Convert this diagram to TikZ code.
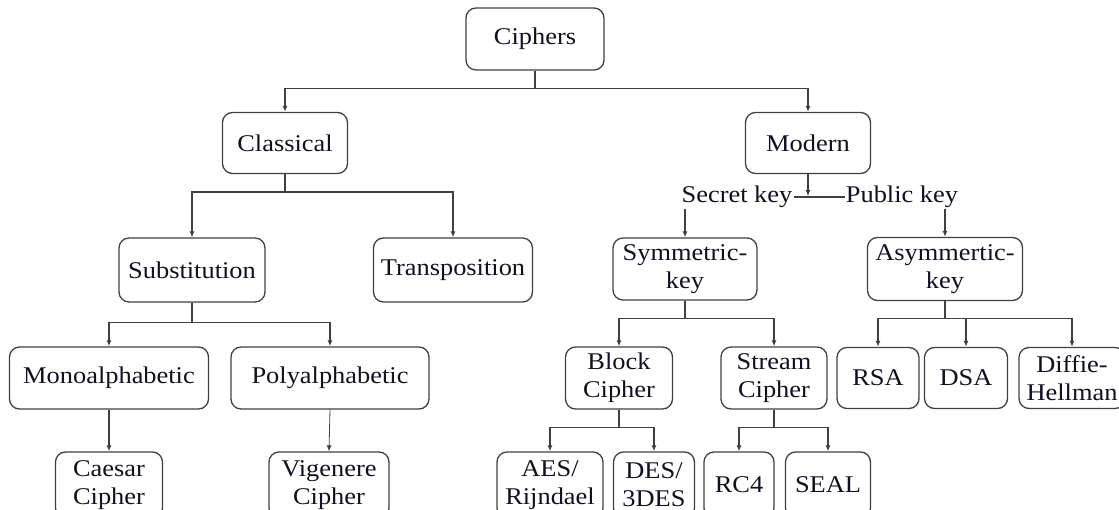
\documentclass[tikz,border=0pt]{standalone}
\usepackage{fontspec}
\setmainfont{Liberation Serif}[FakeStretch=1.1]
\usetikzlibrary{arrows.meta}
\definecolor{ln}{HTML}{404040}
\definecolor{tx}{HTML}{101020}
\begin{document}
\begin{tikzpicture}[x=1pt,y=-1pt,
  box/.style={draw=ln,line width=1.3pt,rounded corners=10pt,inner sep=0pt,align=center,
    text=tx,font=\fontsize{24}{28}\selectfont},
  lbl/.style={inner sep=1pt,text=tx,font=\fontsize{24}{28}\selectfont},
  conn/.style={draw=ln,line width=1.3pt},
  arr/.style={conn,-{Latex[length=6pt,width=5pt]}}]
\path[use as bounding box] (0,0) rectangle (1119,510);
\clip (0,0) rectangle (1119,510);
% nodes
\node[box,minimum width=138,minimum height=62] (ciph) at (535,39) {Ciphers};
\node[box,minimum width=125,minimum height=61] (cla) at (285,143) {Classical};
\node[box,minimum width=125,minimum height=61] (mod) at (808,143) {Modern};
\node[box,minimum width=146,minimum height=64] (sub) at (192,270) {Substitution};
\node[box,minimum width=159,minimum height=64] (tra) at (453,270) {Transposition};
\node[box,minimum width=199,minimum height=62] (mono) at (109,378) {Monoalphabetic};
\node[box,minimum width=198,minimum height=62] (poly) at (330,378) {Polyalphabetic};
\node[box,minimum width=107,minimum height=66] (cae) at (109,485) {Caesar\\Cipher};
\node[box,minimum width=120,minimum height=66] (vig) at (329,485) {Vigenere\\Cipher};
\node[lbl] (sk) at (737,197) {Secret key};
\node[lbl] (pk) at (902,197) {Public key};
\node[box,minimum width=144,minimum height=62] (sym) at (685,269) {Symmetric-\\key};
\node[box,minimum width=155,minimum height=63] (asym) at (945,269) {Asymmertic-\\key};
\node[box,minimum width=107,minimum height=62] (blk) at (619,378) {Block\\Cipher};
\node[box,minimum width=106,minimum height=62] (str) at (774,378) {Stream\\Cipher};
\node[box,minimum width=106,minimum height=66] (aes) at (550,485) {AES/\\Rijndael};
\node[box,minimum width=81,minimum height=66] (des) at (654,485) {DES/\\3DES};
\node[box,minimum width=70,minimum height=66] (rc4) at (739,485) {RC4};
\node[box,minimum width=85,minimum height=66] (seal) at (828,485) {SEAL};
\node[box,minimum width=82,minimum height=61] (rsa) at (878,378) {RSA};
\node[box,minimum width=83,minimum height=61] (dsa) at (966,378) {DSA};
\node[box,minimum width=106,minimum height=61] (dh) at (1072,378) {Diffie-\\Hellman};
% connectors
\draw[arr] (ciph.south) -- +(0,18) -| (cla.north);
\draw[arr] (ciph.south) -- +(0,18) -| (mod.north);
\draw[arr] (cla.south) -- +(0,18) -| (sub.north);
\draw[arr] (cla.south) -- +(0,18) -| (tra.north);
\draw[arr] (sub.south) -- +(0,20) -| (mono.north);
\draw[arr] (sub.south) -- +(0,20) -| (poly.north);
\draw[arr] (mono.south) -- (cae.north);
\draw[draw=ln,line width=0.8pt,-{Latex[length=6pt,width=5pt]}] (poly.south) -- (vig.north);
\draw[arr] (mod.south) -- +(0,22);
\draw[conn] (sk.east) -- (pk.west);
\draw[arr] (sk.south -| sym.north) -- (sym.north);
\draw[arr] (pk.south -| asym.north) -- (asym.north);
\draw[arr] (sym.south) -- +(0,18) -| (blk.north);
\draw[arr] (sym.south) -- +(0,18) -| (str.north);
\draw[arr] (blk.south) -- +(0,18) -| (aes.north);
\draw[arr] (blk.south) -- +(0,18) -| (des.north);
\draw[arr] (str.south) -- +(0,18) -| (rc4.north);
\draw[arr] (str.south) -- +(0,18) -| (seal.north);
\draw[arr] (asym.south) -- +(0,17.5) -| (rsa.north);
\draw[arr] (asym.south) -- +(0,17.5) -| (dsa.north);
\draw[arr] (asym.south) -- +(0,17.5) -| (dh.north);
\end{tikzpicture}
\end{document}
